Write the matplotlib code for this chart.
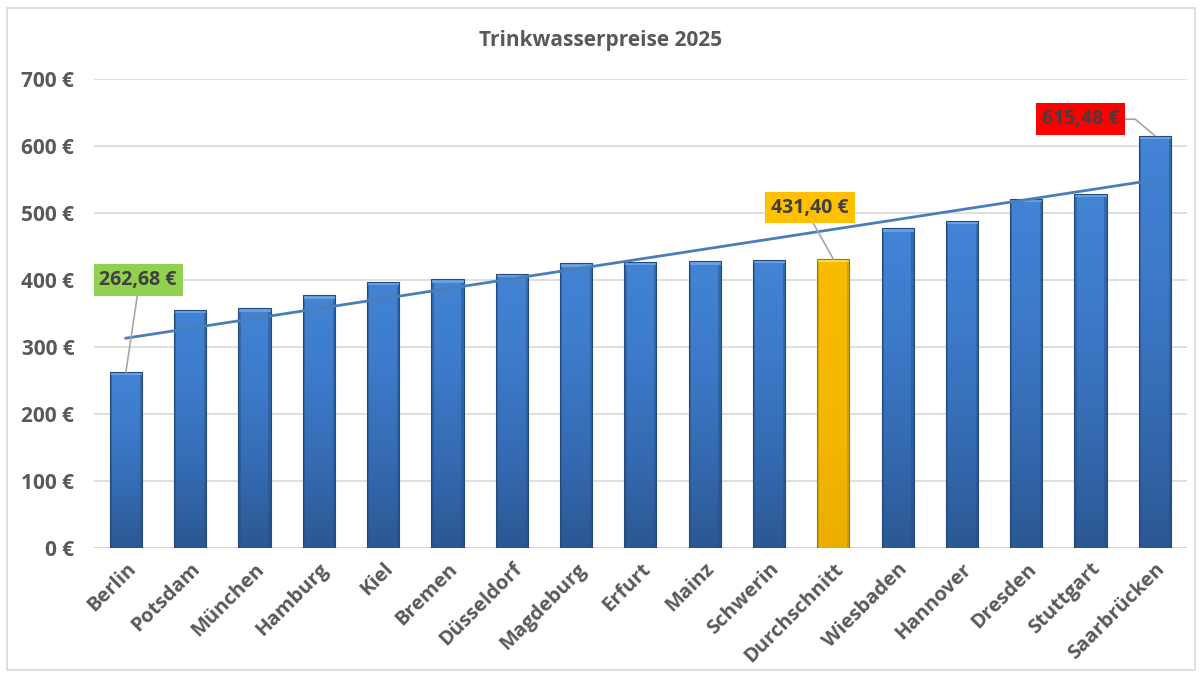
import matplotlib
matplotlib.use('Agg')
import matplotlib.pyplot as plt
import numpy as np
from matplotlib.colors import LinearSegmentedColormap
from matplotlib.patches import Rectangle

# data (euros per year)
cities = ['Berlin', 'Potsdam', 'München', 'Hamburg', 'Kiel', 'Bremen',
          'Düsseldorf', 'Magdeburg', 'Erfurt', 'Mainz', 'Schwerin',
          'Durchschnitt', 'Wiesbaden', 'Hannover', 'Dresden', 'Stuttgart',
          'Saarbrücken']
prices = [262.68, 356, 358, 377, 397, 401, 409, 425, 427, 428, 430,
          431.40, 477, 488, 521, 529, 615.48]
yticks = [0, 100, 200, 300, 400, 500, 600, 700]

# highlighted labels: index, text, box colour, label position (data coords)
highlights = [
    (0, '262,68 €', '#92D050', (0.19, 400)),
    (11, '431,40 €', '#FFC000', (10.64, 508)),
    (16, '615,48 €', '#FF0000', (14.84, 640)),
]

plt.rcParams['font.family'] = ['Open Sans', 'DejaVu Sans']
grey = '#595959'

fig = plt.figure(figsize=(12.02, 6.75), dpi=100)
ax = fig.add_axes([0.078, 0.188, 0.9095, 0.695])

# outer frame of the chart
fig.patches.append(Rectangle((0.006, 0.007), 0.988, 0.981, transform=fig.transFigure,
                             fill=False, edgecolor='#D9D9D9', linewidth=1.2))

x = np.arange(len(cities))
width = 0.5

blue = LinearSegmentedColormap.from_list('b', ['#2B5893', '#356BB2', '#3D7ACA', '#4384D4'])
gold = LinearSegmentedColormap.from_list('g', ['#EDAE00', '#F5B800', '#F9BC00'])

bars = ax.bar(x, prices, width=width, color='none', edgecolor='none', zorder=2)
grad = np.linspace(0, 1, 256).reshape(-1, 1)
for i, b in enumerate(bars):
    is_avg = cities[i] == 'Durchschnitt'
    cmap = gold if is_avg else blue
    x0, h = b.get_x(), b.get_height()
    im = ax.imshow(grad, cmap=cmap, aspect='auto', origin='lower',
                   extent=[x0, x0 + width, 0, h], zorder=2)
    im.set_clip_path(b)
    # darker sides and bevelled top
    side = '#B08600' if is_avg else '#264C80'
    for sx in (x0, x0 + width - 0.035):
        ax.add_patch(Rectangle((sx, 0), 0.035, h, facecolor=side, edgecolor='none',
                               alpha=0.45, zorder=3))
    ax.add_patch(Rectangle((x0, h - 5), width, 5,
                           facecolor='#FFE060' if is_avg else '#6CA4E8',
                           edgecolor='none', alpha=0.9, zorder=3))
    ax.add_patch(Rectangle((x0, 0), width, h, fill=False,
                           edgecolor='#A07A00' if is_avg else '#244A7C',
                           linewidth=0.8, zorder=3))

# linear trendline
k, d = np.polyfit(x, prices, 1)
ax.plot(x, k * x + d, color='#4A7EBB', linewidth=2, zorder=4)

for i, txt, col, pos in highlights:
    if i == 16:
        cs = 'angle,angleA=0,angleB=140,rad=0'
        rel = (1.0, 0.5)
    else:
        cs = 'arc3'
        rel = (0.5, 0.0)
    ax.annotate(txt, xy=(x[i], prices[i]), xytext=pos, ha='center', va='center',
                fontsize=14, fontweight='bold', color='#404040',
                bbox=dict(boxstyle='square,pad=0.3', facecolor=col, edgecolor='none'),
                arrowprops=dict(arrowstyle='-', color='#A6A6A6', linewidth=1.2,
                                shrinkA=0, shrinkB=0, relpos=rel, connectionstyle=cs),
                zorder=5)

ax.set_xlim(-0.5, len(cities) - 0.5)
ax.set_ylim(0, 700)
ax.set_yticks(yticks)
ax.set_yticklabels([f'{v} €' for v in yticks], fontsize=15, fontweight='bold', color=grey)
ax.set_xticks(x)
ax.set_xticklabels(cities, rotation=45, ha='right', rotation_mode='anchor',
                   fontsize=14.5, fontweight='bold', color=grey)
ax.tick_params(axis='y', length=0, pad=14)
ax.tick_params(axis='x', length=0, pad=8)
ax.grid(axis='y', color='#D9D9D9', linewidth=1.2, zorder=0)
ax.set_axisbelow(True)
for s in ax.spines.values():
    s.set_visible(False)
ax.axhline(0, color='#D0D0D0', linewidth=1.2, zorder=1)

fig.text(0.5, 0.94, 'Trinkwasserpreise 2025', ha='center', va='center',
         fontsize=15, fontweight='bold', color=grey)

fig.savefig('out.png', dpi=100)
